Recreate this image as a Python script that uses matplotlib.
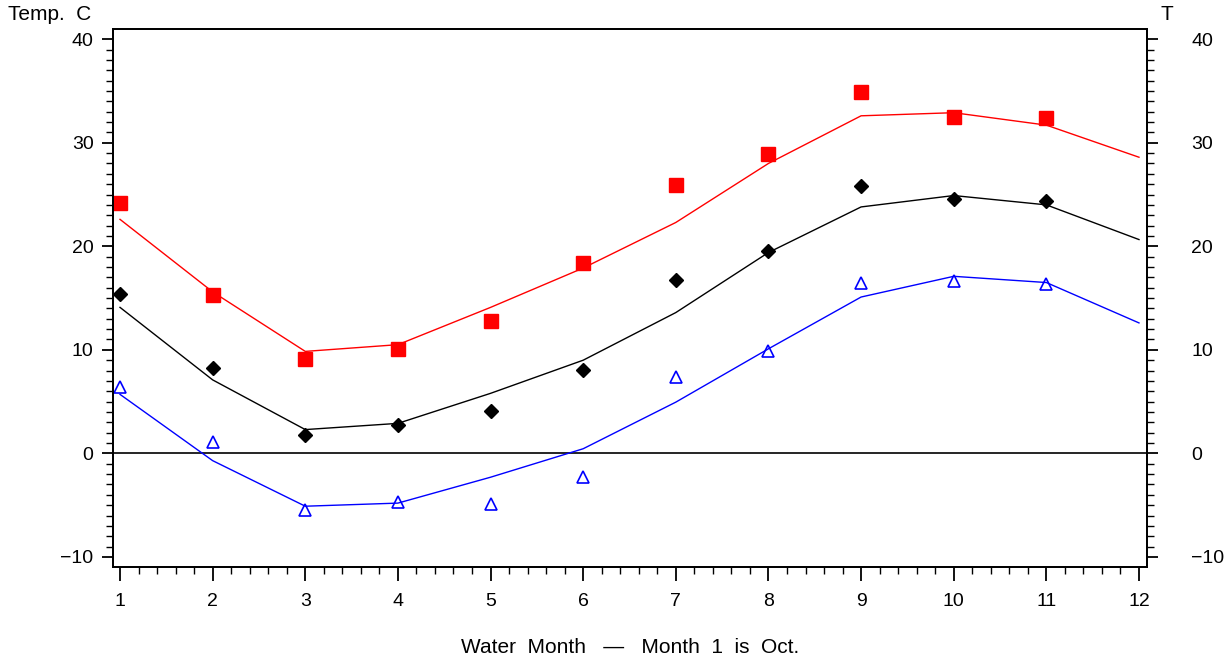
import matplotlib
matplotlib.use("Agg")
import matplotlib.pyplot as plt
from matplotlib.ticker import MultipleLocator

plt.rcParams["font.family"] = ["Liberation Sans", "DejaVu Sans"]
plt.rcParams["font.size"] = 14

months = [1, 2, 3, 4, 5, 6, 7, 8, 9, 10, 11, 12]

# observed points (months 1-11)
obs_months = [1, 2, 3, 4, 5, 6, 7, 8, 9, 10, 11]
max_obs = [24.2, 15.3, 9.1, 10.1, 12.8, 18.4, 25.9, 28.9, 34.9, 32.5, 32.4]
mean_obs = [15.4, 8.2, 1.8, 2.7, 4.05, 8.1, 16.7, 19.5, 25.8, 24.6, 24.4]
min_obs = [6.4, 1.1, -5.5, -4.7, -4.9, -2.3, 7.4, 9.9, 16.5, 16.6, 16.4]

# fitted curves (months 1-12)
max_fit = [22.6, 15.6, 9.85, 10.5, 14.1, 17.9, 22.3, 28.0, 32.6, 32.9, 31.7, 28.6]
mean_fit = [14.1, 7.1, 2.3, 2.9, 5.8, 9.0, 13.6, 19.4, 23.8, 24.9, 24.0, 20.65]
min_fit = [5.7, -0.7, -5.1, -4.8, -2.3, 0.45, 4.95, 10.1, 15.1, 17.1, 16.5, 12.6]

fig = plt.figure(figsize=(12.28, 6.62), dpi=100)
ax = fig.add_axes([0.092, 0.1435, 0.842, 0.8125])

ax.axhline(0, color="black", lw=1.2, zorder=1)

ax.plot(months, max_fit, color="#ff0000", lw=1.0)
ax.plot(months, mean_fit, color="black", lw=1.0)
ax.plot(months, min_fit, color="#0000ff", lw=1.0)

ax.plot(obs_months, max_obs, ls="none", marker="s", ms=10, color="#ff0000", mec="#ff0000")
ax.plot(obs_months, mean_obs, ls="none", marker="D", ms=7.5, color="black")
ax.plot(obs_months, min_obs, ls="none", marker="^", ms=9, mfc="none", mec="#0000ff", mew=1.2)

ax.set_xlim(0.924, 12.086)
ax.set_ylim(-10.97, 40.97)
ax.set_xticks(months)
ax.xaxis.set_minor_locator(MultipleLocator(0.2))
ax.set_yticks([-10, 0, 10, 20, 30, 40])
ax.yaxis.set_minor_locator(MultipleLocator(1))

for s in ax.spines.values():
    s.set_linewidth(1.3)

ax.tick_params(axis="x", which="major", direction="out", length=10, width=1.3, pad=9)
ax.tick_params(axis="x", which="minor", direction="out", length=5, width=1.0)
ax.tick_params(axis="y", which="major", direction="out", length=8, width=1.3, pad=6)
ax.tick_params(axis="y", which="minor", direction="out", length=5, width=1.0)

ax2 = ax.twinx()
ax2.set_ylim(ax.get_ylim())
ax2.set_yticks([-10, 0, 10, 20, 30, 40])
ax2.yaxis.set_minor_locator(MultipleLocator(1))
ax2.tick_params(axis="y", which="major", direction="out", length=8, width=1.3, pad=24)
ax2.tick_params(axis="y", which="minor", direction="out", length=5, width=1.0)
for s in ax2.spines.values():
    s.set_linewidth(1.3)

ax.set_xlabel("Water  Month   \u2014   Month  1  is  Oct.", fontsize=15, labelpad=20)
fig.text(8 / 1228, 1 - 15 / 662, "Temp.  C", ha="left", va="center", fontsize=15)
fig.text(1167 / 1228, 1 - 15 / 662, "T", ha="center", va="center", fontsize=15)

fig.savefig("out.png", dpi=100)
